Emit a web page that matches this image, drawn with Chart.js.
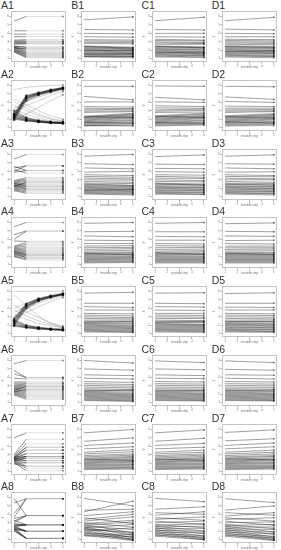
<!DOCTYPE html>
<html>
<head>
<meta charset="utf-8">
<script src="https://cdn.jsdelivr.net/npm/chart.js@4"></script>
<style>
  body { margin: 0; background: #fff; width: 281px; height: 550px; overflow: hidden; position: relative; font-family: "Liberation Sans", Arial, sans-serif; }
  .cell { position: absolute; width: 70px; height: 69px; }
  .cell span { position: absolute; left: 1px; top: -1px; font-size: 10.5px; color: #333; }
  .cell canvas { position: absolute; left: 0; top: 7px; }
</style>
</head>
<body>
<script>
const steps = [1, 2, 3, 4, 5];
const yTicks = [1, 2, 3, 4, 5, 6];

// A panels: [value at step 1, value held from step 2 to 5]
const A1 = [[5.45,6.0],[4.3,4.3],[3.9,3.9],[3.6,3.6],[3.2,3.25],[3.1,3.1],[3.0,3.0],[2.9,2.95],[2.8,2.8],[2.7,2.75],
  [2.5,2.3],[2.4,2.1],[2.35,1.95],[2.3,1.8],[2.2,1.7],[2.1,1.6],[2.05,1.5],[2.0,1.4],[1.9,1.3],[1.85,1.2],[1.8,1.1],[2.25,2.2],[2.45,2.4]];
const A3 = [[5.45,6.0],[4.4,4.65],[4.0,4.65],[4.6,4.1],[4.2,3.8],[3.9,4.1],[2.9,3.25],[2.8,3.1],[2.7,2.95],[2.6,2.8],[2.5,2.6],
  [2.4,2.45],[2.3,2.3],[2.2,2.15],[2.1,2.0],[2.0,1.85],[1.9,1.7],[1.8,1.55],[1.7,1.4],[2.6,2.2],[2.4,1.9],[2.2,2.7]];
const A4 = [[5.5,6.0],[4.55,5.0],[4.0,4.95],[3.8,3.75],[3.2,3.6],[3.1,3.4],[3.0,3.2],[2.9,3.0],[2.8,2.85],[2.7,2.7],[2.6,2.55],
  [2.5,2.4],[2.4,2.3],[2.3,2.2],[2.2,2.05],[2.1,1.9],[2.0,1.7],[1.95,1.55],[2.6,2.1],[2.4,1.8]];
const A6 = [[5.6,6.0],[4.8,3.95],[4.4,4.0],[3.9,3.8],[3.45,3.45],[3.3,3.3],[3.1,3.2],[3.0,3.05],[2.9,2.9],[2.8,2.75],[2.7,2.6],
  [2.6,2.45],[2.5,2.3],[2.4,2.15],[2.3,2.0],[2.2,1.85],[2.1,1.7],[2.0,1.55],[1.9,1.4],[2.5,2.9],[2.3,2.55]];
const A7 = [[5.0,5.6],[3.0,4.85],[2.9,4.3],[2.8,3.9],[2.7,3.55],[2.6,3.15],[2.5,2.8],[2.45,2.6],[2.4,2.3],[2.35,2.05],[2.3,1.65],
  [2.2,1.4],[2.1,1.1],[2.6,3.55],[2.5,3.15],[2.7,2.8],[2.2,2.6],[2.55,2.3],[2.0,2.05],[1.9,1.65],[2.65,3.9],[2.4,2.8]];
const A8 = [[5.35,5.85],[5.9,3.85],[3.6,5.85],[4.1,5.85],[3.5,3.85],[3.2,3.85],[3.0,3.85],[2.9,2.75],[2.8,2.75],[2.7,2.75],
  [2.6,2.75],[2.5,2.75],[2.4,2.0],[2.5,2.0],[2.3,2.0],[2.2,2.0],[2.6,2.0],[2.3,1.15],[2.2,1.15],[2.1,1.15],[2.4,1.15],[2.0,1.15],[3.3,2.75]];

// A2 / A5: full curves over steps 1..5
const A2Heavy = [[2.3,4.6,5.05,5.4,5.7],[2.1,4.5,5.0,5.35,5.65],[2.5,4.7,5.1,5.45,5.72],[2.2,4.4,4.95,5.3,5.6],[1.9,4.2,4.85,5.25,5.6],[2.6,4.8,5.15,5.5,5.75],
  [2.5,2.0,1.75,1.6,1.55],[2.3,1.9,1.7,1.58,1.5],[2.7,2.1,1.8,1.65,1.6],[2.0,1.8,1.65,1.55,1.5],[3.0,2.2,1.85,1.7,1.6],[2.2,1.85,1.7,1.6,1.55]];
const A2Thin = [[5.5,5.8,5.9,6.0,6.05],[4.1,3.3,2.6,2.1,1.8],[3.6,3.0,2.4,2.0,1.7],[3.2,2.6,2.1,1.8,1.65],[4.4,3.7,3.0,2.4,2.0],
  [2.9,3.6,4.2,4.8,5.3],[3.3,4.1,4.6,5.1,5.5],[1.8,2.6,3.4,4.2,4.9]];
const A5Heavy = [[2.4,4.3,5.0,5.4,5.7],[2.2,4.2,4.95,5.35,5.65],[2.6,4.45,5.1,5.45,5.72],[2.0,4.0,4.85,5.3,5.62],[2.8,4.55,5.15,5.5,5.75],
  [2.2,1.8,1.65,1.5,1.45],[2.4,1.9,1.7,1.55,1.5],[2.0,1.75,1.6,1.5,1.42],[2.6,2.0,1.75,1.6,1.5],[1.9,1.7,1.55,1.48,1.4]];
const A5Thin = [[6.0,6.02,6.03,6.03,6.05],[5.6,4.3,3.1,2.2,1.7],[4.4,3.6,2.9,2.3,1.9],[3.8,3.1,2.5,2.1,1.8],[3.3,2.7,2.2,1.9,1.7],
  [3.0,3.9,4.6,5.1,5.5],[3.5,4.3,4.9,5.3,5.6],[2.8,3.5,4.2,4.8,5.3],[4.0,4.6,5.1,5.4,5.65]];

// B, C, D panels: [value at step 1, value at step 5]
const B1 = [[5.6,5.95],[4.45,4.4],[4.0,3.95],[3.6,3.55],[3.25,3.2],[3.1,3.05],[2.95,2.9],[2.8,2.75],[2.5,2.35],[2.4,2.3],[2.3,2.15],[2.2,2.1],[2.1,1.95],
  [2.0,1.9],[1.9,1.8],[1.8,1.7],[1.7,1.6],[1.6,1.5],[1.5,1.45],[1.4,1.3],[1.3,1.25],[1.2,1.1],[2.45,2.2],[1.95,2.0],[1.55,1.6],[1.25,1.3]];
const C1 = [[5.5,5.9],[4.45,4.4],[4.0,4.0],[3.6,3.55],[3.3,3.2],[3.15,3.1],[3.0,2.9],[2.85,2.8],[2.7,2.7],[2.5,2.4],[2.4,2.3],[2.3,2.2],[2.2,2.05],
  [2.1,2.0],[2.0,1.85],[1.9,1.8],[1.8,1.65],[1.7,1.6],[1.6,1.5],[1.5,1.4],[1.4,1.35],[1.3,1.2],[1.2,1.15],[2.45,2.3],[1.75,1.7]];
const D1 = [[5.5,5.9],[4.5,4.4],[4.0,3.95],[3.6,3.6],[3.3,3.25],[3.15,3.1],[3.0,2.95],[2.85,2.8],[2.7,2.65],[2.5,2.45],[2.4,2.3],[2.3,2.2],[2.2,2.1],
  [2.1,1.95],[2.0,1.9],[1.9,1.8],[1.8,1.7],[1.7,1.6],[1.6,1.55],[1.5,1.4],[1.4,1.3],[1.3,1.25],[1.2,1.1],[2.45,2.35],[1.85,1.9]];
const B2 = [[5.9,5.9],[4.7,4.3],[4.05,4.05],[3.5,3.45],[3.3,3.25],[3.1,3.2],[2.95,3.0],[2.8,2.9],[2.35,2.7],[2.25,2.6],[2.2,2.5],[2.1,2.4],
  [2.0,2.3],[1.9,2.2],[1.8,2.1],[1.7,1.95],[1.6,1.85],[1.5,1.7],[1.4,1.6],[1.3,1.45],[1.2,1.3],[2.3,2.2],[1.65,1.5],[1.25,1.2]];
const C2 = [[5.95,5.9],[4.6,4.3],[4.05,4.0],[3.6,3.5],[3.35,3.3],[3.1,3.2],[2.95,3.05],[2.8,2.85],[2.4,2.7],[2.3,2.6],[2.2,2.45],[2.1,2.35],
  [2.0,2.25],[1.9,2.15],[1.8,2.05],[1.7,1.9],[1.6,1.8],[1.5,1.65],[1.4,1.55],[1.3,1.4],[1.2,1.3],[2.35,2.2],[1.6,1.5]];
const D2 = [[5.9,5.85],[4.65,4.35],[4.1,4.0],[3.55,3.5],[3.3,3.3],[3.1,3.15],[2.95,3.0],[2.8,2.9],[2.4,2.65],[2.3,2.55],[2.2,2.45],[2.1,2.35],
  [2.0,2.2],[1.9,2.1],[1.8,2.0],[1.7,1.9],[1.6,1.75],[1.5,1.65],[1.4,1.5],[1.3,1.4],[1.2,1.25],[2.3,2.15],[1.7,1.55]];
const B3 = [[5.8,6.0],[4.9,4.8],[4.4,4.3],[3.9,4.0],[3.6,3.5],[3.4,3.3],[3.2,3.1],[3.0,2.95],[2.8,2.7],[2.6,2.55],[2.4,2.35],[2.3,2.2],
  [2.2,2.1],[2.1,2.0],[2.0,1.9],[1.9,1.8],[1.8,1.7],[1.7,1.6],[1.6,1.5],[1.5,1.4],[1.4,1.3],[1.3,1.2],[2.5,2.3],[1.75,1.85]];
const C3 = [[5.75,5.95],[4.85,4.8],[4.35,4.3],[3.95,3.9],[3.6,3.55],[3.4,3.3],[3.2,3.15],[3.0,2.9],[2.8,2.75],[2.6,2.5],[2.45,2.4],[2.3,2.25],
  [2.2,2.1],[2.1,2.05],[2.0,1.9],[1.9,1.85],[1.8,1.7],[1.7,1.65],[1.6,1.5],[1.5,1.45],[1.4,1.3],[1.3,1.25],[2.55,2.35]];
const D3 = [[5.8,5.95],[4.9,4.85],[4.4,4.3],[3.9,3.95],[3.6,3.5],[3.4,3.35],[3.2,3.1],[3.0,3.0],[2.8,2.7],[2.6,2.55],[2.45,2.35],[2.3,2.2],
  [2.2,2.15],[2.1,2.0],[2.0,1.95],[1.9,1.8],[1.8,1.75],[1.7,1.6],[1.6,1.55],[1.5,1.4],[1.4,1.35],[1.3,1.2],[2.5,2.4]];
const B4 = [[5.9,6.0],[4.9,4.95],[4.4,4.3],[3.9,3.85],[3.5,3.5],[3.2,3.25],[3.0,3.05],[2.8,2.9],[2.6,2.7],[2.45,2.5],[2.3,2.4],[2.2,2.3],
  [2.1,2.2],[2.0,2.05],[1.9,1.95],[1.8,1.85],[1.7,1.75],[1.6,1.65],[1.5,1.55],[1.4,1.45],[1.3,1.35],[1.2,1.25],[2.35,2.15]];
const C4 = [[5.9,6.0],[4.9,4.9],[4.35,4.3],[3.9,3.9],[3.5,3.45],[3.25,3.2],[3.0,3.05],[2.8,2.85],[2.6,2.65],[2.45,2.5],[2.3,2.35],[2.2,2.25],
  [2.1,2.15],[2.0,2.0],[1.9,1.9],[1.8,1.8],[1.7,1.7],[1.6,1.6],[1.5,1.5],[1.4,1.4],[1.3,1.3],[1.2,1.2],[2.4,2.2]];
const D4 = [[5.85,5.95],[4.95,4.9],[4.4,4.35],[3.85,3.9],[3.5,3.45],[3.2,3.2],[3.0,3.0],[2.8,2.85],[2.6,2.65],[2.45,2.45],[2.3,2.35],[2.2,2.2],
  [2.1,2.1],[2.0,2.0],[1.9,1.9],[1.8,1.8],[1.7,1.7],[1.6,1.6],[1.5,1.5],[1.4,1.4],[1.3,1.3],[1.2,1.2],[2.35,2.2]];
const B5 = [[5.8,5.9],[4.6,4.6],[4.2,4.1],[3.8,3.8],[3.4,3.35],[3.2,3.1],[3.0,2.9],[2.8,2.75],[2.6,2.6],[2.45,2.4],[2.3,2.25],[2.2,2.15],
  [2.1,2.0],[2.0,1.9],[1.9,1.8],[1.8,1.7],[1.7,1.6],[1.6,1.5],[1.5,1.4],[1.4,1.3],[1.3,1.2],[1.2,1.15],[2.35,2.45]];
const C5 = [[5.8,5.85],[4.6,4.55],[4.2,4.15],[3.8,3.75],[3.4,3.4],[3.2,3.15],[3.0,2.95],[2.8,2.8],[2.6,2.55],[2.45,2.45],[2.3,2.3],[2.2,2.1],
  [2.1,2.05],[2.0,1.95],[1.9,1.85],[1.8,1.75],[1.7,1.65],[1.6,1.55],[1.5,1.45],[1.4,1.35],[1.3,1.25],[1.2,1.15],[2.35,2.4]];
const D5 = [[5.75,5.85],[4.6,4.6],[4.15,4.1],[3.8,3.8],[3.4,3.35],[3.2,3.15],[3.0,2.95],[2.8,2.75],[2.6,2.6],[2.45,2.4],[2.3,2.25],[2.2,2.15],
  [2.1,2.05],[2.0,1.95],[1.9,1.85],[1.8,1.7],[1.7,1.65],[1.6,1.5],[1.5,1.45],[1.4,1.3],[1.3,1.25],[1.2,1.15],[2.4,2.45]];
const B6 = [[6.0,5.7],[5.0,4.85],[4.3,4.2],[3.9,3.8],[3.5,3.4],[3.25,3.15],[3.05,2.95],[2.85,2.75],[2.65,2.55],[2.5,2.4],[2.35,2.25],[2.25,2.1],
  [2.15,2.0],[2.05,1.9],[1.95,1.8],[1.85,1.7],[1.75,1.6],[1.65,1.5],[1.55,1.4],[1.45,1.3],[1.35,1.2],[1.25,1.15],[2.4,2.5]];
const C6 = [[5.95,5.75],[5.0,4.9],[4.3,4.2],[3.9,3.85],[3.5,3.45],[3.25,3.2],[3.05,3.0],[2.85,2.8],[2.65,2.6],[2.5,2.45],[2.35,2.3],[2.25,2.15],
  [2.15,2.05],[2.05,1.95],[1.95,1.85],[1.85,1.75],[1.75,1.65],[1.65,1.55],[1.55,1.45],[1.45,1.35],[1.35,1.25],[1.25,1.2],[2.4,2.45]];
const D6 = [[5.95,5.75],[4.95,4.85],[4.3,4.25],[3.9,3.8],[3.5,3.45],[3.25,3.2],[3.05,3.0],[2.85,2.8],[2.65,2.6],[2.5,2.4],[2.35,2.3],[2.25,2.15],
  [2.15,2.05],[2.05,1.95],[1.95,1.85],[1.85,1.75],[1.75,1.65],[1.65,1.55],[1.55,1.45],[1.45,1.35],[1.35,1.25],[1.25,1.2],[2.45,2.5]];
const B7 = [[5.6,6.0],[4.6,5.0],[4.1,4.4],[3.7,3.95],[3.3,3.6],[3.1,3.35],[2.9,3.1],[2.75,2.95],[2.6,2.8],[2.45,2.7],[2.35,2.55],[2.25,2.45],
  [2.15,2.3],[2.05,2.2],[1.95,2.1],[1.85,1.95],[1.75,1.85],[1.65,1.75],[1.55,1.6],[1.45,1.5],[1.35,1.4],[1.25,1.3],[2.5,2.3]];
const C7 = [[5.6,5.95],[4.6,4.95],[4.1,4.35],[3.7,3.9],[3.3,3.55],[3.1,3.3],[2.9,3.1],[2.75,2.95],[2.6,2.8],[2.45,2.65],[2.35,2.55],[2.25,2.4],
  [2.15,2.3],[2.05,2.2],[1.95,2.05],[1.85,1.95],[1.75,1.85],[1.65,1.7],[1.55,1.6],[1.45,1.5],[1.35,1.4],[1.25,1.3],[2.5,2.35]];
const D7 = [[5.65,5.95],[4.65,4.9],[4.1,4.4],[3.7,3.95],[3.3,3.55],[3.1,3.3],[2.9,3.1],[2.75,2.9],[2.6,2.8],[2.45,2.65],[2.35,2.5],[2.25,2.4],
  [2.15,2.3],[2.05,2.15],[1.95,2.05],[1.85,1.95],[1.75,1.8],[1.65,1.7],[1.55,1.6],[1.45,1.5],[1.35,1.4],[1.25,1.3],[2.55,2.4]];
const B8 = [[5.9,5.0],[4.3,5.55],[4.5,4.6],[3.85,4.3],[3.6,2.9],[3.4,4.0],[3.2,3.7],[3.0,2.5],[2.9,3.3],[2.8,1.8],[2.7,3.1],[2.6,2.2],
  [2.5,1.5],[2.4,2.8],[2.3,1.2],[2.2,1.9],[2.1,1.0],[2.0,2.4],[1.9,1.3],[1.8,0.95],[1.7,1.6],[1.6,1.1],[1.5,0.9],[1.45,1.4],[2.35,1.7]];
const C8 = [[5.9,5.5],[4.6,4.9],[4.2,4.0],[3.9,4.3],[3.6,3.3],[3.4,3.7],[3.2,2.8],[3.0,3.2],[2.8,2.4],[2.7,2.9],[2.6,2.0],[2.5,2.6],
  [2.4,1.7],[2.3,2.3],[2.2,1.4],[2.1,2.0],[2.0,1.2],[1.9,1.8],[1.8,1.1],[1.7,1.5],[1.6,1.0],[1.5,1.3],[1.4,1.0]];
const D8 = [[5.85,5.4],[4.5,5.0],[4.2,3.9],[3.8,4.2],[3.6,3.2],[3.4,3.6],[3.2,2.7],[3.0,3.1],[2.8,2.3],[2.7,2.8],[2.6,1.9],[2.5,2.5],
  [2.4,1.6],[2.3,2.2],[2.2,1.3],[2.1,1.9],[2.0,1.15],[1.9,1.7],[1.8,1.0],[1.7,1.4],[1.6,0.95],[1.5,1.2],[1.4,0.9]];

const panels = [
  ['A1', A1, 'kink'], ['B1', B1], ['C1', C1], ['D1', D1],
  ['A2', A2Thin, 'curve', A2Heavy], ['B2', B2], ['C2', C2], ['D2', D2],
  ['A3', A3, 'kink'], ['B3', B3], ['C3', C3], ['D3', D3],
  ['A4', A4, 'kink'], ['B4', B4], ['C4', C4], ['D4', D4],
  ['A5', A5Thin, 'curve', A5Heavy], ['B5', B5], ['C5', C5], ['D5', D5],
  ['A6', A6, 'kink'], ['B6', B6], ['C6', C6], ['D6', D6],
  ['A7', A7, 'kink'], ['B7', B7], ['C7', C7], ['D7', D7],
  ['A8', A8, 'kink'], ['B8', B8], ['C8', C8], ['D8', D8]
];

const boxPlugin = {
  id: 'box',
  beforeDatasetsDraw(chart) {
    const a = chart.chartArea;
    const c = chart.ctx;
    c.save();
    c.strokeStyle = '#c4c4c4';
    c.lineWidth = 1;
    c.strokeRect(Math.round(a.left) + 0.5, Math.round(a.top) + 0.5, Math.round(a.right - a.left) - 1, Math.round(a.bottom - a.top) - 1);
    c.restore();
  }
};

function points(line, shape) {
  if (shape === 'curve') return line.map((v, i) => ({ x: steps[i], y: v }));
  if (shape === 'kink') return [{ x: 1, y: line[0] }, { x: 2, y: line[1] }, { x: 5, y: line[1] }];
  return [{ x: 1, y: line[0] }, { x: 5, y: line[1] }];
}

function endOnly(ctx) {
  return ctx.raw && ctx.raw.x === 5 ? 1.1 : 0;
}

function makeChart(panel, index) {
  const [id, lines, shape, heavy] = panel;
  const cell = document.createElement('div');
  cell.className = 'cell';
  cell.style.left = ((index % 4) * 70.25) + 'px';
  cell.style.top = (Math.floor(index / 4) * 68.75) + 'px';
  const label = document.createElement('span');
  label.textContent = id;
  const canvas = document.createElement('canvas');
  canvas.width = 70;
  canvas.height = 62;
  cell.append(label, canvas);
  document.body.append(cell);

  const datasets = lines.map(line => ({
    data: points(line, shape),
    borderColor: shape === 'curve' ? 'rgba(0,0,0,0.2)' : 'rgba(20,20,20,0.45)',
    borderWidth: 0.9,
    segment: shape === 'kink' ? { borderColor: ctx => ctx.p0DataIndex === 0 ? 'rgba(20,20,20,0.5)' : 'rgba(0,0,0,0.14)' } : undefined,
    pointRadius: endOnly,
    pointStyle: 'rect',
    pointBackgroundColor: 'rgba(0,0,0,0.55)',
    pointBorderWidth: 0
  }));
  (heavy || []).forEach(line => datasets.push({
    data: points(line, 'curve'),
    borderColor: 'rgba(0,0,0,0.38)',
    borderWidth: 1.3,
    pointRadius: 1.3,
    pointBackgroundColor: 'rgba(0,0,0,0.5)',
    pointBorderWidth: 0
  }));

  const tickFont = { size: 3, family: 'Liberation Sans' };
  new Chart(canvas, {
    type: 'line',
    data: { datasets },
    options: {
      responsive: false,
      animation: false,
      events: [],
      layout: { padding: { top: 2, right: 1 } },
      plugins: { legend: { display: false }, tooltip: { enabled: false } },
      scales: {
        x: {
          type: 'linear', min: 0.75, max: 5.25,
          afterBuildTicks: s => { s.ticks = steps.map(v => ({ value: v })); },
          afterFit: s => { s.height = 7; },
          grid: { drawOnChartArea: false, tickLength: 1.5, color: '#aaa' },
          border: { display: false },
          ticks: { font: tickFont, color: '#777', padding: 0.5, maxRotation: 0 },
          title: { display: true, text: 'iteration step', font: tickFont, color: '#777', padding: 0 }
        },
        y: {
          min: 0.6, max: 6.65,
          afterBuildTicks: s => { s.ticks = yTicks.map(v => ({ value: v })); },
          afterFit: s => { s.width = 11; },
          grid: { drawOnChartArea: false, tickLength: 1.5, color: '#aaa' },
          border: { display: false },
          ticks: { font: tickFont, color: '#777', padding: 0.5 },
          title: { display: true, text: 'y', font: tickFont, color: '#777', padding: 0 }
        }
      }
    },
    plugins: [boxPlugin]
  });
}

panels.forEach(makeChart);
</script>
</body>
</html>
